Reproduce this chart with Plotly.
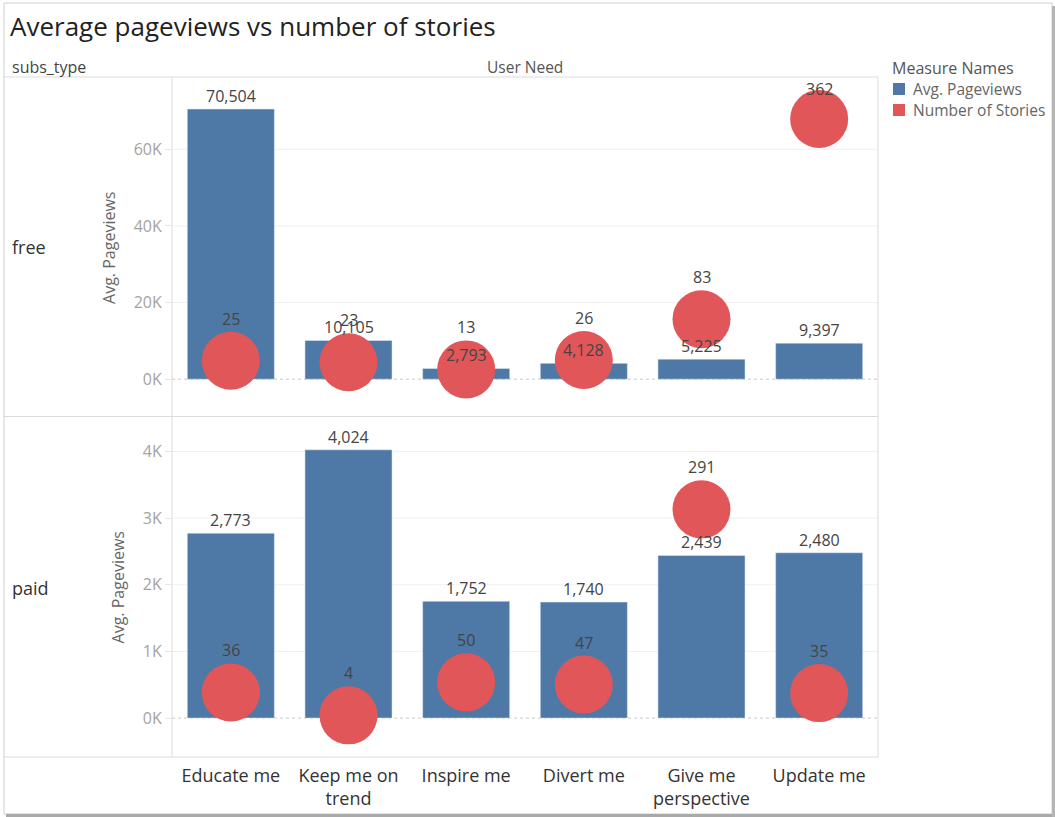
import plotly.graph_objects as go
from plotly.subplots import make_subplots

# ---- data -------------------------------------------------------------
user_needs = ["Educate me", "Keep me on<br>trend", "Inspire me", "Divert me",
              "Give me<br>perspective", "Update me"]
subs_types = ["free", "paid"]
measure_names = ["Avg. Pageviews", "Number of Stories"]

free_pageviews = [70504, 10105, 2793, 4128, 5225, 9397]
free_stories = [25, 23, 13, 26, 83, 362]
paid_pageviews = [2773, 4024, 1752, 1740, 2439, 2480]
paid_stories = [36, 4, 50, 47, 291, 35]

free_tickvals = [0, 20000, 40000, 60000]
free_ticktext = ["0K", "20K", "40K", "60K"]
paid_tickvals = [0, 1000, 2000, 3000, 4000]
paid_ticktext = ["0K", "1K", "2K", "3K", "4K"]

# ---- styling ----------------------------------------------------------
W, H = 1055, 817
ML, MR, MT, MB = 172, 177, 78, 60
PW, PH = W - ML - MR, H - MT - MB
BLUE = "#4e79a7"
RED = "#e15759"
LINE = "#dcdcdc"
FONT = "Open Sans, Lato, sans-serif"

free_range = [-10000, 78600]
paid_range = [-584, 4509]
stories_range = [-54, 419]


def px(x):
    return (x - ML) / PW


def py(y):
    return (H - MB - y) / PH


fig = make_subplots(rows=2, cols=1, shared_xaxes=True, vertical_spacing=0,
                    specs=[[{"secondary_y": True}], [{"secondary_y": True}]])

rows = [
    (1, free_pageviews, free_stories, free_range, free_tickvals, free_ticktext, "y", "y2", "x"),
    (2, paid_pageviews, paid_stories, paid_range, paid_tickvals, paid_ticktext, "y3", "y4", "x2"),
]

annotations = []
shapes = []
pane_h = PH / 2

for row, pv, st, rng, tv, tt, yref, y2ref, xref in rows:
    fig.add_trace(go.Bar(x=user_needs, y=pv, marker_color=BLUE, width=0.74,
                         name=measure_names[0], showlegend=False),
                  row=row, col=1, secondary_y=False)
    fig.add_trace(go.Scatter(x=user_needs, y=st, mode="markers",
                             marker=dict(color=RED, size=58, opacity=1),
                             name=measure_names[1], showlegend=False),
                  row=row, col=1, secondary_y=True)

    fig.update_yaxes(range=rng, tickvals=tv, ticktext=tt, showgrid=False,
                     zeroline=False, ticks="outside", ticklen=6,
                     tickcolor="#e6e6e6", automargin=False,
                     tickfont=dict(size=16, color="#a3a3a3", family=FONT),
                     title=dict(text="Avg. Pageviews", standoff=14,
                                font=dict(size=16, color="#666", family=FONT)),
                     row=row, col=1, secondary_y=False)
    fig.update_yaxes(range=stories_range, visible=False, showgrid=False,
                     zeroline=False, automargin=False,
                     row=row, col=1, secondary_y=True)

    # gridlines; the zero baseline is dotted
    for v in tv:
        shapes.append(dict(type="line", xref=f"{xref} domain", yref=yref,
                           x0=0, x1=1, y0=v, y1=v, layer="below",
                           line=dict(color="#c8c8c8" if v == 0 else "#f0f0f0",
                                     width=1, dash="dot" if v == 0 else "solid")))

    # bar value labels
    for cat, v in zip(user_needs, pv):
        annotations.append(dict(x=cat, y=v, xref=xref, yref=yref, text=f"{v:,}",
                                showarrow=False, yanchor="bottom", yshift=0,
                                font=dict(size=16, color="#444", family=FONT)))
    # story count labels, kept inside the pane
    span = stories_range[1] - stories_range[0]
    for cat, s in zip(user_needs, st):
        d = (stories_range[1] - s) / span * pane_h
        target = max(d - 42, 11)
        annotations.append(dict(x=cat, y=s, xref=xref, yref=y2ref, text=str(s),
                                showarrow=False, yanchor="middle",
                                yshift=d - target,
                                font=dict(size=16, color="#444", family=FONT)))

fig.update_xaxes(domain=[0, 1], range=[-0.5, len(user_needs) - 0.5],
                 showgrid=False, zeroline=False, showline=False,
                 automargin=False)
fig.update_xaxes(showticklabels=False, row=1, col=1)
fig.update_xaxes(ticks="", ticklabelstandoff=6, row=2, col=1,
                 tickfont=dict(size=18, color="#333", family=FONT))

# header / row labels
annotations += [
    dict(x=px(10), y=py(67), xref="paper", yref="paper", text="subs_type",
         xanchor="left", yanchor="middle", showarrow=False,
         font=dict(size=16, color="#444", family=FONT)),
    dict(x=0.5, y=py(67), xref="paper", yref="paper", text="User Need",
         xanchor="center", yanchor="middle", showarrow=False,
         font=dict(size=15.5, color="#555", family=FONT)),
]
for name, yc in zip(subs_types, [247, 588]):
    annotations.append(dict(x=px(10), y=py(yc), xref="paper", yref="paper",
                            text=name, xanchor="left", yanchor="middle",
                            showarrow=False,
                            font=dict(size=18, color="#333", family=FONT)))

# colour legend
annotations.append(dict(x=px(890), y=py(68), xref="paper", yref="paper",
                        text="Measure Names", xanchor="left", yanchor="middle",
                        showarrow=False,
                        font=dict(size=16, color="#555", family=FONT)))
for i, (name, col) in enumerate(zip(measure_names, [BLUE, RED])):
    yc = 89 + 21 * i
    shapes.append(dict(type="rect", xref="paper", yref="paper",
                       x0=px(893), x1=px(905), y0=py(yc - 6), y1=py(yc + 6),
                       fillcolor=col, line=dict(width=0)))
    annotations.append(dict(x=px(911), y=py(yc), xref="paper", yref="paper",
                            text=name, xanchor="left", yanchor="middle",
                            showarrow=False,
                            font=dict(size=15.5, color="#666", family=FONT)))


# pane borders
def hline(y, x0=4, x1=878, color=LINE, width=1):
    return dict(type="line", xref="paper", yref="paper", x0=px(x0), x1=px(x1),
                y0=py(y), y1=py(y), line=dict(color=color, width=width))


def vline(x, y0=77, y1=757, color=LINE, width=1):
    return dict(type="line", xref="paper", yref="paper", x0=px(x), x1=px(x),
                y0=py(y0), y1=py(y1), line=dict(color=color, width=width))


shapes += [hline(77), hline(416.5), hline(757), vline(172), vline(878)]
# outer frame with a soft drop shadow
shapes += [
    dict(type="rect", xref="paper", yref="paper", x0=px(4), x1=px(1052),
         y0=py(3), y1=py(814), line=dict(color="#cfcfcf", width=1)),
    hline(815.5, 6, 1055, "#a9a9a9", 3),
    vline(1053.5, 6, 817, "#b5b5b5", 3),
]

fig.update_layout(
    width=W, height=H,
    margin=dict(l=ML, r=MR, t=MT, b=MB, autoexpand=False),
    paper_bgcolor="white", plot_bgcolor="white",
    showlegend=False,
    title=dict(text="Average pageviews vs number of stories",
               x=10 / W, y=1 - 27 / H, xref="container", yref="container",
               xanchor="left", yanchor="middle",
               font=dict(size=26, color="#222", family=FONT)),
    annotations=annotations,
    shapes=shapes,
    font=dict(family=FONT),
)

fig.write_html("out.html")
